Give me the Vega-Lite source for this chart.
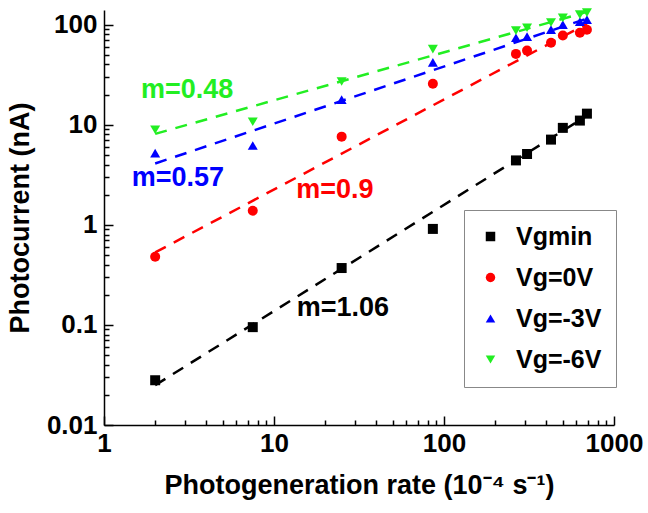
{
  "$schema": "https://vega.github.io/schema/vega-lite/v6.json",
  "autosize": {"type": "none"},
  "padding": {"left": 104, "top": 10, "right": 34, "bottom": 88},
  "width": 510,
  "height": 415,
  "background": "white",
  "config": {
    "view": {"stroke": null},
    "font": "Liberation Sans",
    "axis": {
      "labelFont": "Liberation Sans", "labelFontWeight": "bold", "labelFontSize": 26, "labelColor": "black",
      "titleFont": "Liberation Sans", "titleFontWeight": "bold", "titleFontSize": 27, "titleColor": "black",
      "domainColor": "black", "domainWidth": 1.5, "tickColor": "black", "tickWidth": 1.5, "grid": false
    }
  },
  "datasets": {
    "pts": [
      {"series": "Vgmin", "rate": 2, "current": 0.028},
      {"series": "Vgmin", "rate": 7.5, "current": 0.095},
      {"series": "Vgmin", "rate": 25, "current": 0.37},
      {"series": "Vgmin", "rate": 86, "current": 0.91},
      {"series": "Vgmin", "rate": 265, "current": 4.4},
      {"series": "Vgmin", "rate": 308, "current": 5.1},
      {"series": "Vgmin", "rate": 426, "current": 7.1},
      {"series": "Vgmin", "rate": 500, "current": 9.3},
      {"series": "Vgmin", "rate": 630, "current": 11},
      {"series": "Vgmin", "rate": 693, "current": 12.9},
      {"series": "Vg=0V", "rate": 2, "current": 0.48},
      {"series": "Vg=0V", "rate": 7.5, "current": 1.38},
      {"series": "Vg=0V", "rate": 25, "current": 7.6},
      {"series": "Vg=0V", "rate": 86, "current": 25.7},
      {"series": "Vg=0V", "rate": 265, "current": 51},
      {"series": "Vg=0V", "rate": 308, "current": 55},
      {"series": "Vg=0V", "rate": 426, "current": 66},
      {"series": "Vg=0V", "rate": 500, "current": 78},
      {"series": "Vg=0V", "rate": 630, "current": 83},
      {"series": "Vg=0V", "rate": 693, "current": 89},
      {"series": "Vg=-3V", "rate": 2, "current": 5.2},
      {"series": "Vg=-3V", "rate": 7.5, "current": 6.2},
      {"series": "Vg=-3V", "rate": 25, "current": 17.8},
      {"series": "Vg=-3V", "rate": 86, "current": 42},
      {"series": "Vg=-3V", "rate": 265, "current": 74},
      {"series": "Vg=-3V", "rate": 308, "current": 76},
      {"series": "Vg=-3V", "rate": 426, "current": 89},
      {"series": "Vg=-3V", "rate": 500, "current": 100},
      {"series": "Vg=-3V", "rate": 630, "current": 107},
      {"series": "Vg=-3V", "rate": 693, "current": 112},
      {"series": "Vg=-6V", "rate": 2, "current": 8.9},
      {"series": "Vg=-6V", "rate": 7.5, "current": 10.7},
      {"series": "Vg=-6V", "rate": 25, "current": 27},
      {"series": "Vg=-6V", "rate": 86, "current": 57},
      {"series": "Vg=-6V", "rate": 265, "current": 87},
      {"series": "Vg=-6V", "rate": 308, "current": 93},
      {"series": "Vg=-6V", "rate": 426, "current": 105},
      {"series": "Vg=-6V", "rate": 500, "current": 117},
      {"series": "Vg=-6V", "rate": 630, "current": 126},
      {"series": "Vg=-6V", "rate": 693, "current": 132}
    ],
    "fits": [
      {"fit": "Vgmin", "rate": 2, "current": 0.025},
      {"fit": "Vgmin", "rate": 693, "current": 12.3},
      {"fit": "Vg=0V", "rate": 2, "current": 0.53},
      {"fit": "Vg=0V", "rate": 693, "current": 102},
      {"fit": "Vg=-3V", "rate": 2, "current": 4.1},
      {"fit": "Vg=-3V", "rate": 693, "current": 115},
      {"fit": "Vg=-6V", "rate": 2, "current": 8.1},
      {"fit": "Vg=-6V", "rate": 693, "current": 134}
    ],
    "notes": [
      {"group": "Vg=-6V", "label": "m=0.48", "rate": 3.08, "current": 22.4},
      {"group": "Vg=-3V", "label": "m=0.57", "rate": 2.72, "current": 2.95},
      {"group": "Vg=0V", "label": "m=0.9", "rate": 22.8, "current": 2.24},
      {"group": "Vgmin", "label": "m=1.06", "rate": 25.4, "current": 0.148}
    ]
  },
  "resolve": {"axis": {"x": "independent", "y": "independent"}},
  "layer": [
    {
      "data": {"name": "fits"},
      "mark": {"type": "line", "strokeDash": [12, 9], "strokeWidth": 2.5},
      "encoding": {
        "x": {"field": "rate", "type": "quantitative",
              "scale": {"type": "log", "domain": [1, 1000], "nice": false},
              "axis": {"orient": "bottom", "values": [1, 10, 100, 1000], "format": "~g", "tickSize": -9, "labelPadding": 14,
                       "title": "Photogeneration rate (10⁻⁴ s⁻¹)", "titlePadding": 16, "labelFlush": false}},
        "y": {"field": "current", "type": "quantitative",
              "scale": {"type": "log", "domain": [0.01, 140], "nice": false},
              "axis": {"orient": "left", "values": [0.01, 0.1, 1, 10, 100], "format": "~g", "tickSize": -9, "labelPadding": 16,
                       "title": "Photocurrent (nA)", "titlePadding": 12, "labelFlush": false}},
        "stroke": {"condition": [
                     {"test": "datum.fit === 'Vgmin'", "value": "black"},
                     {"test": "datum.fit === 'Vg=0V'", "value": "#ff0000"},
                     {"test": "datum.fit === 'Vg=-3V'", "value": "#0000ff"}],
                   "value": "#22ee22"},
        "detail": {"field": "fit"}
      }
    },
    {
      "data": {"name": "pts"},
      "mark": {"type": "point", "filled": true, "opacity": 1, "size": 100},
      "encoding": {
        "x": {"field": "rate", "type": "quantitative", "axis": null},
        "y": {"field": "current", "type": "quantitative", "axis": null},
        "color": {"field": "series", "type": "nominal",
                  "scale": {"domain": ["Vgmin", "Vg=0V", "Vg=-3V", "Vg=-6V"], "range": ["black", "#ff0000", "#0000ff", "#22ee22"]},
                  "legend": {"title": null, "orient": "none", "legendX": 360, "legendY": 200,
                             "strokeColor": "#888888", "padding": 14, "labelFont": "Liberation Sans", "labelFontWeight": "bold",
                             "labelFontSize": 25, "labelColor": "black", "symbolSize": 90, "rowPadding": 15, "labelOffset": 13}},
        "shape": {"field": "series", "type": "nominal",
                  "scale": {"domain": ["Vgmin", "Vg=0V", "Vg=-3V", "Vg=-6V"], "range": ["square", "circle", "triangle-up", "triangle-down"]}}
      }
    },
    {
      "data": {"name": "notes"},
      "mark": {"type": "text", "font": "Liberation Sans", "fontWeight": "bold", "fontSize": 27, "align": "center", "baseline": "middle"},
      "encoding": {
        "x": {"field": "rate", "type": "quantitative",
              "axis": {"orient": "bottom", "values": [2,3,4,5,6,7,8,9,20,30,40,50,60,70,80,90,200,300,400,500,600,700,800,900],
                       "labels": false, "domain": false, "tickSize": -5, "title": null}},
        "y": {"field": "current", "type": "quantitative",
              "axis": {"orient": "left", "values": [0.02,0.03,0.04,0.05,0.06,0.07,0.08,0.09,0.2,0.3,0.4,0.5,0.6,0.7,0.8,0.9,2,3,4,5,6,7,8,9,20,30,40,50,60,70,80,90],
                       "labels": false, "domain": false, "tickSize": -5, "title": null}},
        "text": {"field": "label"},
        "fill": {"condition": [
                   {"test": "datum.group === 'Vgmin'", "value": "black"},
                   {"test": "datum.group === 'Vg=0V'", "value": "#ff0000"},
                   {"test": "datum.group === 'Vg=-3V'", "value": "#0000ff"}],
                 "value": "#22ee22"}
      }
    }
  ]
}
